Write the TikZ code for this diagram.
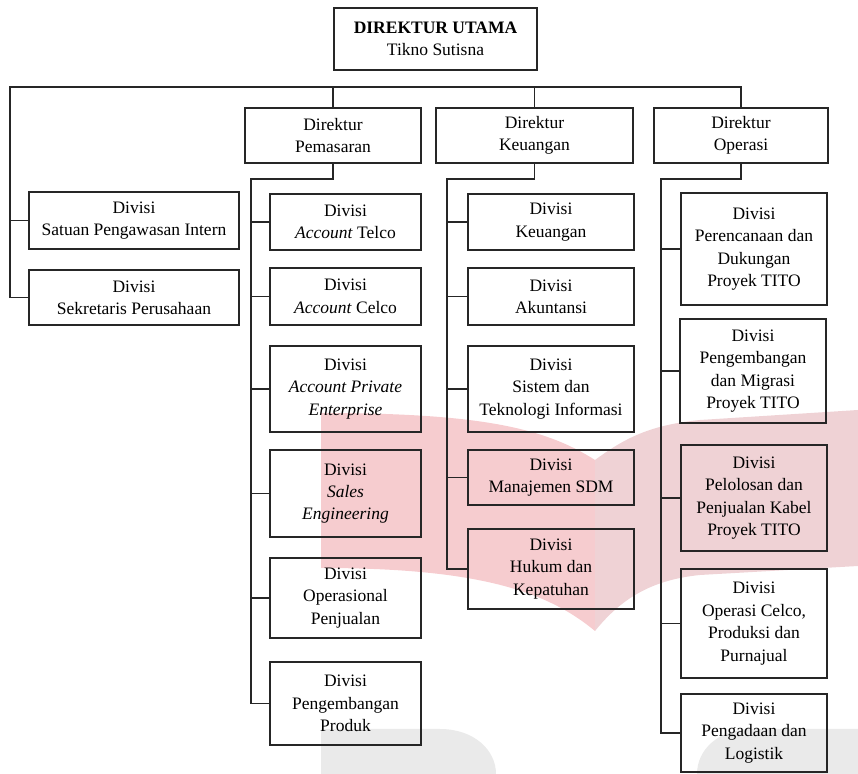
\documentclass[tikz,border=0pt]{standalone}
\usepackage{fontspec}
\setmainfont{Liberation Serif}
\usepackage{xcolor}

\definecolor{wmpink}{RGB}{246,204,207}
\definecolor{wmrose}{RGB}{239,210,213}
\definecolor{wmgray}{RGB}{234,234,234}

\tikzset{
  orgbox/.style={draw=black!85, line width=0.7pt, align=center, inner sep=1pt,
    font=\fontsize{8.75}{11.2}\selectfont},
  link/.style={draw=black!85, line width=0.7pt},
}

\begin{document}
\begin{tikzpicture}[x=0.5pt, y=-0.5pt]
\useasboundingbox (0,0) rectangle (858,774);

% =====================
% Watermark
% =====================
\fill[wmpink] (321,413) .. controls (480,413) and (545,428) .. (595,460)
    -- (595,631) .. controls (548,592) and (480,568) .. (321,568) -- cycle;
\fill[wmrose] (595,460) .. controls (625,438) and (650,425) .. (700,420)
    -- (858,410) -- (858,566) -- (700,575)
    .. controls (650,580) and (620,600) .. (595,631) -- cycle;
\fill[wmgray] (321,774) -- (321,729) -- (440,729)
    .. controls (474,729) and (496,750) .. (496,774) -- cycle;
\fill[wmgray] (697,774) .. controls (697,750) and (718,729) .. (752,729)
    -- (858,729) -- (858,774) -- cycle;

% =====================
% Top level
% =====================
\node[orgbox, minimum width=101.5pt, minimum height=31pt] (dirut) at (435.5,39)
    {\textbf{DIREKTUR UTAMA}\\Tikno Sutisna};

\node[orgbox, minimum width=105pt, minimum height=28.5pt] (spi) at (134,220.5)
    {Divisi\\Satuan Pengawasan Intern};
\node[orgbox, minimum width=105pt, minimum height=27.5pt] (sekper) at (134,297.5)
    {Divisi\\Sekretaris Perusahaan};

% =====================
% Directors
% =====================
\node[orgbox, minimum width=88pt, minimum height=27.5pt] (dpem) at (333,135.5)
    {Direktur\\Pemasaran};
\node[orgbox, minimum width=98.5pt, minimum height=27.5pt] (dkeu) at (534.5,135.5)
    {Direktur\\Keuangan};
\node[orgbox, minimum width=87pt, minimum height=27.5pt] (dops) at (741,135.5)
    {Direktur\\Operasi};

% =====================
% Pemasaran divisions
% =====================
\node[orgbox, minimum width=75.5pt, minimum height=28pt] (telco) at (345.5,222)
    {Divisi\\\textit{Account} Telco};
\node[orgbox, minimum width=75.5pt, minimum height=28.5pt] (celco) at (345.5,296.5)
    {Divisi\\\textit{Account} Celco};
\node[orgbox, minimum width=75.5pt, minimum height=43pt] (ape) at (345.5,389)
    {Divisi\\\textit{Account Private}\\\textit{Enterprise}};
\node[orgbox, minimum width=75.5pt, minimum height=43.5pt] (sales) at (345.5,493.5)
    {Divisi\\\textit{Sales}\\\textit{Engineering}};
\node[orgbox, minimum width=75.5pt, minimum height=40pt] (oppj) at (345.5,598)
    {Divisi\\Operasional\\Penjualan};
\node[orgbox, minimum width=75.5pt, minimum height=41.5pt] (prod) at (345.5,703.5)
    {Divisi\\Pengembangan\\Produk};

% =====================
% Keuangan divisions
% =====================
\node[orgbox, minimum width=83pt, minimum height=28pt] (keu) at (551,222)
    {Divisi\\Keuangan};
\node[orgbox, minimum width=83pt, minimum height=28.5pt] (akun) at (551,296.5)
    {Divisi\\Akuntansi};
\node[orgbox, minimum width=83pt, minimum height=43pt] (sti) at (551,389)
    {Divisi\\Sistem dan\\Teknologi Informasi};
\node[orgbox, minimum width=83pt, minimum height=27.5pt] (sdm) at (551,477.5)
    {Divisi\\Manajemen SDM};
\node[orgbox, minimum width=83pt, minimum height=40pt] (hukum) at (551,569)
    {Divisi\\Hukum dan\\Kepatuhan};

% =====================
% Operasi divisions
% =====================
\node[orgbox, minimum width=73pt, minimum height=56pt] (renc) at (754,249)
    {Divisi\\Perencanaan dan\\Dukungan\\Proyek TITO};
\node[orgbox, minimum width=73pt, minimum height=52pt] (migr) at (753,371)
    {Divisi\\Pengembangan\\dan Migrasi\\Proyek TITO};
\node[orgbox, minimum width=73pt, minimum height=53pt] (kabel) at (754,498)
    {Divisi\\Pelolosan dan\\Penjualan Kabel\\Proyek TITO};
\node[orgbox, minimum width=73pt, minimum height=54.5pt] (opcel) at (754,623.5)
    {Divisi\\Operasi Celco,\\Produksi dan\\Purnajual};
\node[orgbox, minimum width=73pt, minimum height=39pt] (logis) at (754,733)
    {Divisi\\Pengadaan dan\\Logistik};

% =====================
% Connectors
% =====================
\coordinate (bus) at (10,87);
\draw[link] (sekper.west) -| (bus) -| (dops.north);
\draw[link] (spi.west) -- (spi.west -| bus);
\draw[link] (bus -| dpem.north) -- (dpem.north);
\draw[link] (bus -| dkeu.north) -- (dkeu.north);

% column spines
\coordinate (spP) at (251,179);
\coordinate (spK) at (447,179);
\coordinate (spO) at (661,179);

\draw[link] (dpem.south) |- (spP) |- (prod.west);
\foreach \n in {telco,celco,ape,sales,oppj}
    \draw[link] (\n.west) -- (\n.west -| spP);

\draw[link] (dkeu.south) |- (spK) |- (hukum.west);
\foreach \n in {keu,akun,sti,sdm}
    \draw[link] (\n.west) -- (\n.west -| spK);

\draw[link] (dops.south) |- (spO) |- (logis.west);
\foreach \n in {renc,migr,kabel,opcel}
    \draw[link] (\n.west) -- (\n.west -| spO);

\end{tikzpicture}
\end{document}
